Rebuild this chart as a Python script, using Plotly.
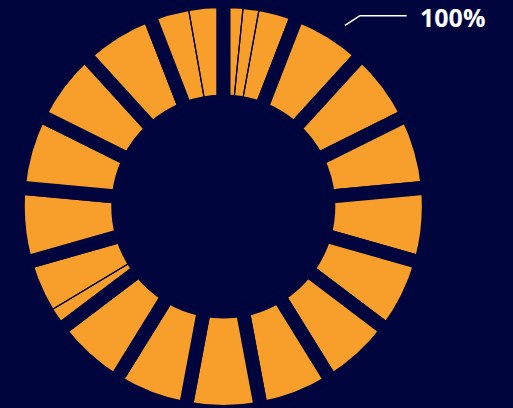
import plotly.graph_objects as go

# ---- data ----
group_labels = [f"G{i}" for i in range(1, 18)]
group_values = [21.2, 21.2, 21.2, 21.2, 21.2, 21.2, 21.2, 21.2, 21.2,
                21.2, 21.2, 21.2, 21.2, 21.2, 21.2, 21.2, 21.2]
sub_values = [5.7, 4.6, 10.9,
              21.2, 21.2, 21.2, 21.2, 21.2, 21.2, 21.2, 21.2, 21.2, 21.2,
              6.0, 15.2,
              21.2, 21.2, 21.2, 21.2,
              11.2, 10.0]
sub_labels = [f"S{i}" for i in range(1, len(sub_values) + 1)]
label_text = "100%"

BG = "#00053E"
ORANGE = "#F89E2B"
W, H = 513, 413   # the bottom 5px fall outside the 408px window (ring is clipped like the reference)

domain = dict(x=[0, 446.6 / W], y=[1 / H, (H - 1) / H])
hole = 0.511

fig = go.Figure()
fig.add_trace(go.Pie(
    labels=group_labels, values=group_values, sort=False,
    direction="clockwise", rotation=0, hole=hole, domain=domain,
    marker=dict(colors=[ORANGE] * len(group_values),
                line=dict(color=BG, width=14)),
    textinfo="none", hoverinfo="skip", showlegend=False,
))
fig.add_trace(go.Pie(
    labels=sub_labels, values=sub_values, sort=False,
    direction="clockwise", rotation=0, hole=hole, domain=domain,
    marker=dict(colors=["rgba(0,0,0,0)"] * len(sub_values),
                line=dict(color=BG, width=1.2)),
    textinfo="none", hoverinfo="skip", showlegend=False,
))

def px(x, y):
    return f"{x / W:.5f},{1 - y / H:.5f}"

fig.add_shape(type="path", xref="paper", yref="paper",
              path=f"M {px(345, 25.3)} L {px(360, 15.7)} L {px(406.7, 15.7)}",
              line=dict(color="white", width=1.6))
fig.add_annotation(text=f"<b>{label_text}</b>", xref="paper", yref="paper",
                   x=418 / W, y=1 - 17.2 / H, xanchor="left", yanchor="middle",
                   showarrow=False,
                   font=dict(family="Open Sans", size=25, color="white"))

fig.update_layout(width=W, height=H, margin=dict(l=0, r=0, t=0, b=0),
                  paper_bgcolor=BG, plot_bgcolor=BG)
fig.write_html("out.html",
               config={"displayModeBar": False, "staticPlot": True},
               post_script="document.body.style.margin='0';"
                           "document.body.style.overflow='hidden';"
                           "document.documentElement.style.overflow='hidden';"
                           f"document.body.style.background='{BG}';")
